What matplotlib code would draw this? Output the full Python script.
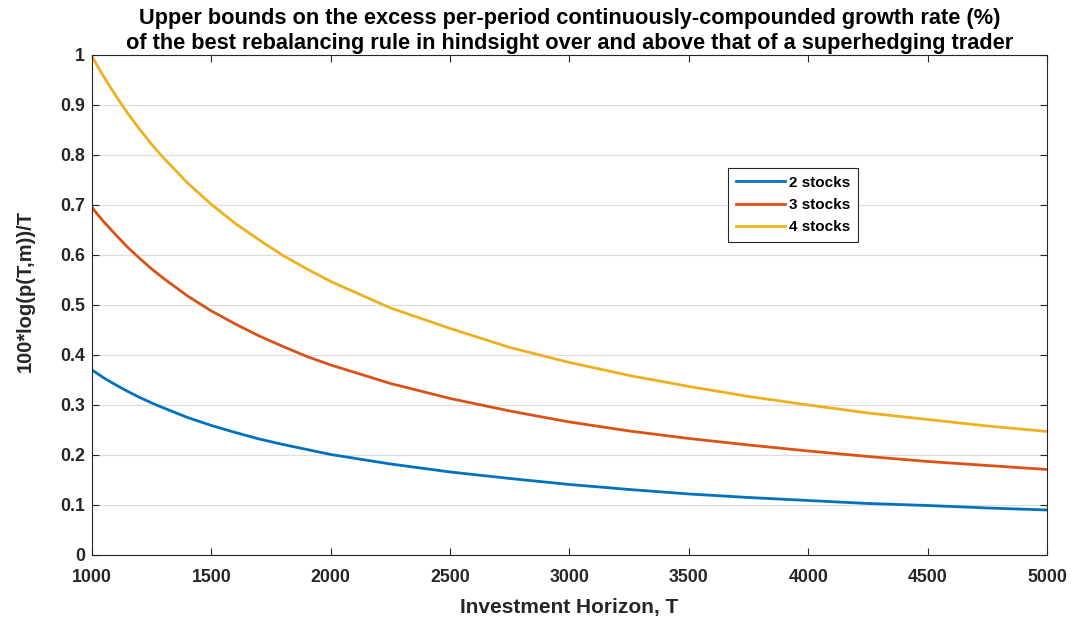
import matplotlib
matplotlib.use("Agg")
import matplotlib.pyplot as plt
from matplotlib.ticker import FuncFormatter

plt.rcParams["font.family"] = ["Liberation Sans", "DejaVu Sans"]
plt.rcParams["font.weight"] = "bold"

# values
horizon = [1000, 1025, 1050, 1100, 1150, 1200, 1250, 1300, 1400, 1500, 1600, 1700, 1800,
           1900, 2000, 2250, 2500, 2750, 3000, 3250, 3500, 3750, 4000, 4250, 4500,
           4750, 5000]
stocks2 = [0.370, 0.362, 0.354, 0.340, 0.327, 0.315, 0.304, 0.294, 0.275, 0.259, 0.245,
           0.232, 0.221, 0.211, 0.201, 0.182, 0.166, 0.153, 0.141, 0.131, 0.122, 0.115,
           0.109, 0.103, 0.099, 0.094, 0.090]
stocks3 = [0.695, 0.680, 0.666, 0.640, 0.615, 0.593, 0.572, 0.553, 0.518, 0.488, 0.462,
           0.438, 0.417, 0.397, 0.380, 0.343, 0.313, 0.288, 0.266, 0.248, 0.233, 0.220,
           0.208, 0.197, 0.187, 0.179, 0.171]
stocks4 = [0.997, 0.976, 0.956, 0.918, 0.883, 0.851, 0.821, 0.794, 0.744, 0.701, 0.663,
           0.630, 0.599, 0.572, 0.547, 0.494, 0.453, 0.415, 0.385, 0.359, 0.337, 0.317,
           0.300, 0.284, 0.271, 0.258, 0.247]
labels = ["2 stocks", "3 stocks", "4 stocks"]
colors = ["#0072BD", "#D95319", "#EDB120"]

x_ticks = list(range(1000, 5001, 500))
y_ticks = [i / 10 for i in range(11)]

fig = plt.figure(figsize=(10.76, 6.17), dpi=100)
ax = fig.add_axes([0.0855, 0.1005, 0.8875, 0.8105])

for series, label, color in zip([stocks2, stocks3, stocks4], labels, colors):
    ax.plot(horizon, series, color=color, linewidth=2, label=label)

ax.set_xlim(1000, 5000)
ax.set_ylim(0, 1)
ax.set_xticks(x_ticks)
ax.set_yticks(y_ticks)
ax.yaxis.set_major_formatter(FuncFormatter(lambda v, p: "%g" % v))
ax.grid(True, axis="y", color="#dedede", linewidth=0.9)
ax.tick_params(direction="in", top=True, right=True, length=5, width=0.8,
               labelsize=12.8, colors="#262626")
ax.tick_params(axis="x", pad=10)
ax.tick_params(axis="y", pad=5)
for lbl in ax.get_xticklabels() + ax.get_yticklabels():
    lbl.set_fontweight("bold")
for spine in ax.spines.values():
    spine.set_color("#262626")
    spine.set_linewidth(0.8)

ax.set_xlabel("Investment Horizon, T", fontsize=15, fontweight="bold", color="#262626")
ax.xaxis.set_label_coords(0.5, -0.086)
ax.set_ylabel("100*log(p(T,m))/T", fontsize=14.5, fontweight="bold", color="#262626")
ax.yaxis.set_label_coords(-0.06, 0.528)
ax.set_title("Upper bounds on the excess per-period continuously-compounded growth rate (%)\n"
             "of the best rebalancing rule in hindsight over and above that of a superhedging trader",
             fontsize=15.7, fontweight="bold", pad=4, linespacing=1.25)

leg = ax.legend(loc="upper left", bbox_to_anchor=(0.666, 0.774), fancybox=False,
                edgecolor="#262626", framealpha=1, handlelength=3.2,
                borderaxespad=0, labelspacing=0.55, handletextpad=0.3,
                borderpad=0.5, prop={"weight": "bold", "size": 11})
leg.get_frame().set_linewidth(0.8)

fig.savefig("out.png", dpi=100)
